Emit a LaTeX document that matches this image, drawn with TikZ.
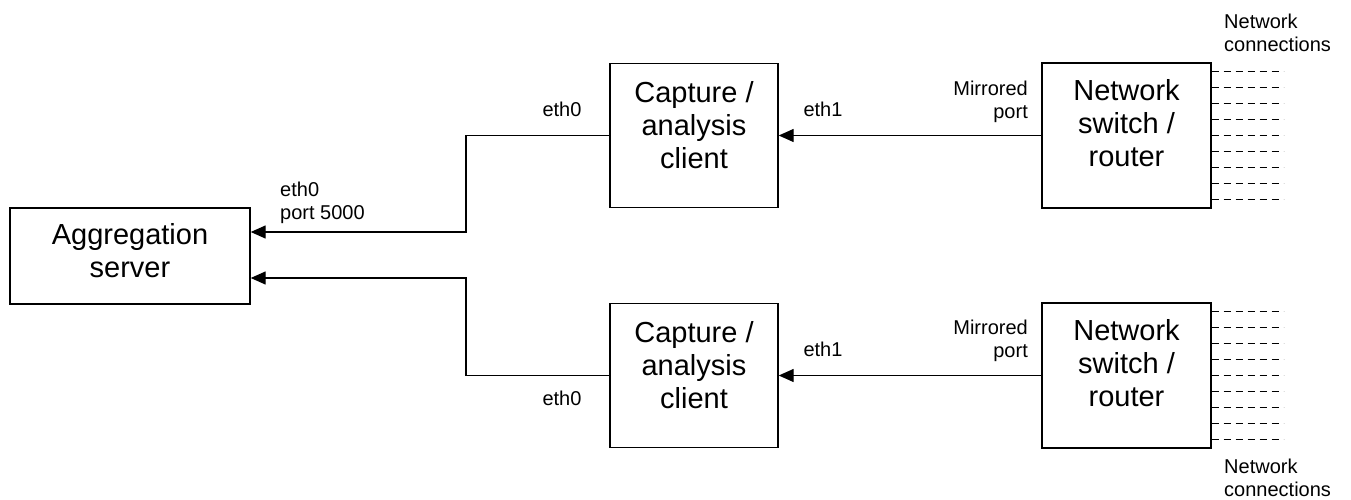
\documentclass[tikz,border=0pt]{standalone}
\usepackage{fontspec}
\setmainfont{Liberation Sans}
\usetikzlibrary{arrows.meta,positioning}
\tikzstyle{box}=[draw,line width=1.4pt,inner sep=0pt,align=center,font=\fontsize{29}{33}\selectfont]
\tikzstyle{label}=[inner sep=0pt,font=\fontsize{20}{23}\selectfont]
\tikzstyle{link}=[draw,line width=1.4pt,-{Triangle[length=15pt,width=13pt]}]
\tikzstyle{port line}=[draw,line width=1.5pt,dash pattern=on 7pt off 5pt]

\begin{document}
\begin{tikzpicture}[x=1pt,y=-1pt]
    \useasboundingbox (0,0) rectangle (1351,500);
    % First we draw the boxes
    \node[box,minimum width=240pt,minimum height=96pt,text depth=11pt] (agg) at (130,256) {Aggregation\\server};
    \foreach \pos/\name in {{(694,135.5)/cap1},{(694,375.5)/cap2}}
        \node[box,minimum width=168pt,minimum height=144pt,text depth=22pt] (\name) at \pos {Capture /\\analysis\\client};
    \foreach \pos/\name in {{(1126.5,135.5)/sw1},{(1126.5,375.5)/sw2}}
        \node[box,minimum width=169pt,minimum height=145pt,text depth=25pt] (\name) at \pos {Network\\switch /\\router};

    % Bends of the uplinks
    \coordinate (bend1) at (466,135.5);
    \coordinate (bend2) at (466,375.5);

    % Connect boxes with links
    \foreach \source/\dest in {sw1/cap1,sw2/cap2}
        \path[link] (\source.west) -- (\dest.east);
    \path[link] (cap1.west) -- (bend1) |- ([yshift=24pt]agg.east);
    \path[link] (cap2.west) -- (bend2) |- ([yshift=-22pt]agg.east);

    % Network connections on the switches
    \foreach \name in {sw1,sw2}
        \foreach \dy in {-64,-48,...,64}
            \path[port line] ([yshift=\dy pt]\name.east) -- ++(72,0);

    % Port labels
    \node[label,anchor=north west,align=left] (aggport) at (280,181.5) {eth0\\port 5000};
    \foreach \pos/\name/\text in {{(562,117)/cap1out/eth0},{(562,405)/cap2out/eth0},{(823,117)/cap1in/eth1},{(823,356)/cap2in/eth1}}
        \node[label,anchor=base] (\name) at \pos {\text};
    \foreach \pos/\name in {{(1028,80.5)/sw1port},{(1028,320)/sw2port}}
        \node[label,anchor=north east,align=right] (\name) at \pos {Mirrored\\port};
    \node[label,anchor=north west,align=left] (sw1net) at (1224,13.5) {Network\\connections};
    \node[label,anchor=north west,align=left] (sw2net) at (1224,458.5) {Network\\connections};
\end{tikzpicture}
\end{document}
